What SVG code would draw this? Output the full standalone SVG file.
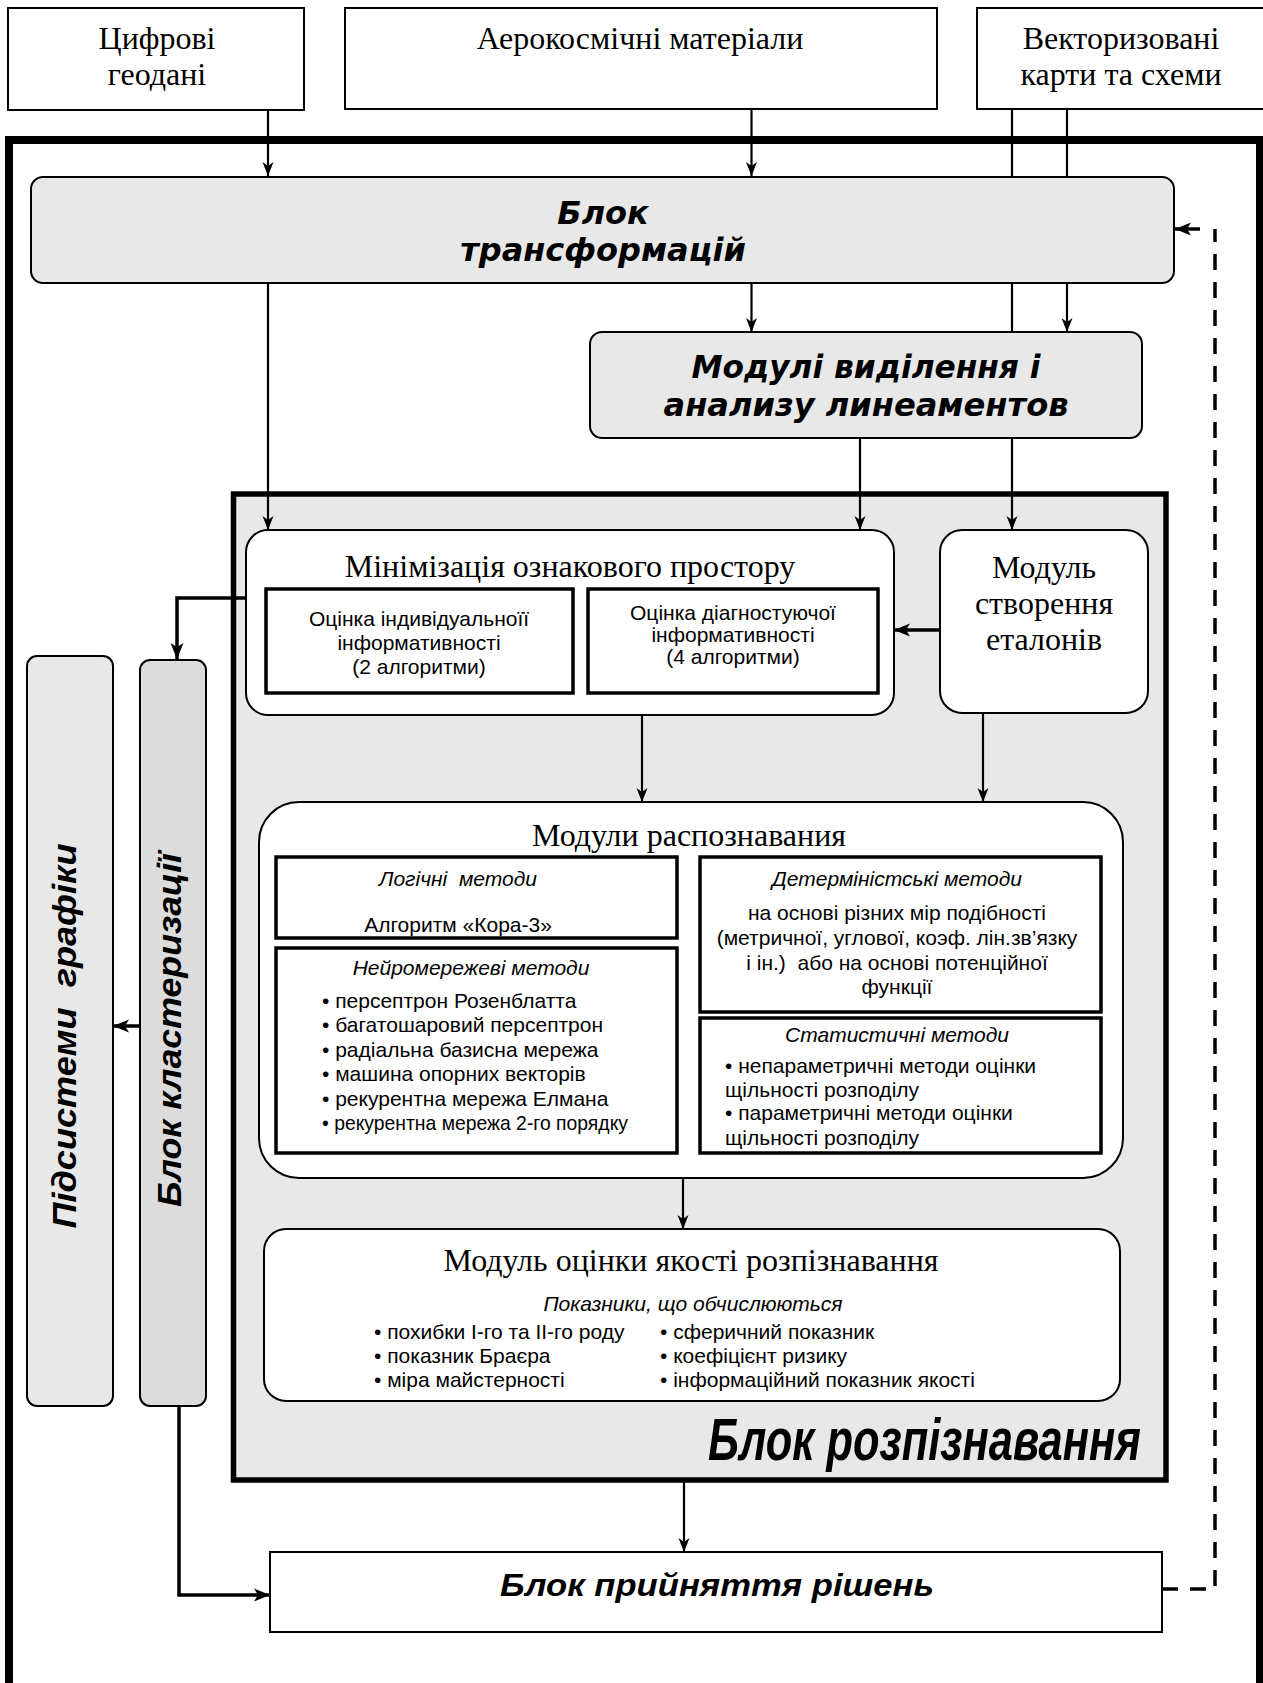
<svg xmlns="http://www.w3.org/2000/svg" width="1263" height="1683" viewBox="0 0 1263 1683">
<style>
.bg{fill:#ffffff}
.box{fill:#ffffff;stroke:#000;stroke-width:2}
.gbox{fill:#e8e8e8;stroke:#000;stroke-width:2}
.tbox{fill:#ffffff;stroke:#000;stroke-width:3.5}
.ln{fill:none;stroke:#000;stroke-width:2.2}
.thk{fill:none;stroke:#000;stroke-width:3.5}
.dash{fill:none;stroke:#000;stroke-width:3.5;stroke-dasharray:16 12}
.serif{font-family:"Liberation Serif","Times New Roman",serif;font-size:32px;fill:#000}
.sans{font-family:"Liberation Sans",Arial,sans-serif;font-size:21px;fill:#000}
.it{font-style:italic}
.hb{font-family:"DejaVu Sans",Verdana,sans-serif;font-weight:bold;font-style:italic;font-size:32px;fill:#000}
.ab{font-family:"Liberation Sans",Arial,sans-serif;font-weight:bold;font-style:italic;fill:#000}
.mid{text-anchor:middle}
</style>
<defs>
<marker id="ah" markerUnits="userSpaceOnUse" markerWidth="14" markerHeight="12" refX="14" refY="6" orient="auto">
<path d="M0,0.5 L14,6 L0,11.5 L4,6 z" fill="#000"/>
</marker>
<marker id="ahk" markerUnits="userSpaceOnUse" markerWidth="16" markerHeight="14" refX="16" refY="7" orient="auto">
<path d="M0,0.5 L16,7 L0,13.5 L4,7 z" fill="#000"/>
</marker>
</defs>
<rect class="bg" x="0" y="0" width="1263" height="1683"/>

<g id="outer-frame">
<path d="M9,1700 V140 H1260 V1700" fill="none" stroke="#000" stroke-width="8"/>
</g>

<g id="recognition-block">
<rect x="233.5" y="494" width="932.5" height="986" fill="#e8e8e8" stroke="#000" stroke-width="5.5"/>
<text class="ab" transform="translate(708,1460) scale(0.73,1)" x="0" y="0" font-size="60" textLength="593" lengthAdjust="spacingAndGlyphs">Блок розпізнавання</text>
</g>

<g id="connectors">
<path class="ln" d="M268,110 V176" marker-end="url(#ah)"/>
<path class="ln" d="M751.5,109 V176" marker-end="url(#ah)"/>
<path class="ln" d="M1012,109 V530" marker-end="url(#ah)"/>
<path class="ln" d="M1067,109 V332" marker-end="url(#ah)"/>
<path class="ln" d="M268,283 V530" marker-end="url(#ah)"/>
<path class="ln" d="M751.5,283 V332" marker-end="url(#ah)"/>
<path class="ln" d="M860,438 V530" marker-end="url(#ah)"/>
<path class="thk" d="M940,630 H894" marker-end="url(#ahk)"/>
<path class="thk" d="M246,598 H177 V659" marker-end="url(#ahk)"/>
<path class="ln" d="M642,715 V802" marker-end="url(#ah)"/>
<path class="ln" d="M983,713 V802" marker-end="url(#ah)"/>
<path class="ln" d="M683,1178 V1229" marker-end="url(#ah)"/>
<path class="thk" d="M140,1026 H113" marker-end="url(#ahk)"/>
<path class="thk" d="M179,1406 V1595 H270" marker-end="url(#ahk)"/>
<path class="ln" d="M684,1482 V1552" marker-end="url(#ah)"/>
<path class="dash" d="M1162,1589 H1215 V229"/>
<path class="thk" d="M1200,229 H1175" marker-end="url(#ahk)"/>
</g>

<g id="src-geodata">
<rect class="box" x="8" y="8" width="296" height="102"/>
<text class="serif mid" x="157" y="49">Цифрові</text>
<text class="serif mid" x="157" y="85">геодані</text>
</g>

<g id="src-aerospace">
<rect class="box" x="345" y="8" width="592" height="101"/>
<text class="serif mid" x="640" y="49">Аерокосмічні матеріали</text>
</g>

<g id="src-vector">
<rect class="box" x="977" y="8" width="300" height="101"/>
<text class="serif mid" x="1121" y="49">Векторизовані</text>
<text class="serif mid" x="1121" y="85">карти та схеми</text>
</g>

<g id="transform-block">
<rect class="gbox" x="31" y="177" width="1143" height="106" rx="12"/>
<text class="hb mid" x="603" y="224">Блок</text>
<text class="hb mid" x="603" y="261">трансформацій</text>
</g>

<g id="lineament-modules">
<rect class="gbox" x="590" y="332" width="552" height="106" rx="12"/>
<text class="hb mid" x="866" y="378" font-size="30" textLength="349" lengthAdjust="spacingAndGlyphs">Модулі виділення і</text>
<text class="hb mid" x="866" y="416" font-size="30" textLength="405" lengthAdjust="spacingAndGlyphs">анализу линеаментов</text>
</g>

<g id="minimization">
<rect class="box" x="246" y="530" width="648" height="185" rx="22"/>
<text class="serif mid" x="570" y="577">Мінімізація ознакового простору</text>
<rect class="tbox" x="266" y="589" width="307" height="104"/>
<text class="sans mid" x="419" y="626">Оцінка індивідуальноїї</text>
<text class="sans mid" x="419" y="650">інформативності</text>
<text class="sans mid" x="419" y="674">(2 алгоритми)</text>
<rect class="tbox" x="588" y="589" width="290" height="104"/>
<text class="sans mid" x="733" y="620">Оцінка діагностуючої</text>
<text class="sans mid" x="733" y="642">інформативності</text>
<text class="sans mid" x="733" y="664">(4 алгоритми)</text>
</g>

<g id="standards-module">
<rect class="box" x="940" y="530" width="208" height="183" rx="22"/>
<text class="serif mid" x="1044" y="578">Модуль</text>
<text class="serif mid" x="1044" y="614">створення</text>
<text class="serif mid" x="1044" y="650">еталонів</text>
</g>

<g id="recognition-modules">
<rect class="box" x="259" y="802" width="864" height="376" rx="40"/>
<text class="serif mid" x="689" y="846">Модули распознавания</text>
<rect class="tbox" x="276" y="857" width="401" height="81"/>
<text class="sans it mid" x="458" y="886" xml:space="preserve">Логічні  методи</text>
<text class="sans mid" x="458" y="932">Алгоритм «Кора-3»</text>
<rect class="tbox" x="276" y="948" width="401" height="205"/>
<text class="sans it mid" x="471" y="975">Нейромережеві методи</text>
<text class="sans" x="322" y="1008">• персептрон Розенблатта</text>
<text class="sans" x="322" y="1032">• багатошаровий персептрон</text>
<text class="sans" x="322" y="1057">• радіальна базисна мережа</text>
<text class="sans" x="322" y="1081">• машина опорних векторів</text>
<text class="sans" x="322" y="1106">• рекурентна мережа Елмана</text>
<text class="sans" x="322" y="1130" textLength="306" lengthAdjust="spacingAndGlyphs">• рекурентна мережа 2-го порядку</text>
<rect class="tbox" x="700" y="857" width="401" height="155"/>
<text class="sans it mid" x="897" y="886">Детерміністські методи</text>
<text class="sans mid" x="897" y="920">на основі різних мір подібності</text>
<text class="sans mid" x="897" y="945">(метричної, углової, коэф. лін.зв’язку</text>
<text class="sans mid" x="897" y="970" xml:space="preserve">і ін.)  або на основі потенційної</text>
<text class="sans mid" x="897" y="994">функції</text>
<rect class="tbox" x="700" y="1018" width="401" height="135"/>
<text class="sans it mid" x="897" y="1042">Статистичні методи</text>
<text class="sans" x="725" y="1073">• непараметричні методи оцінки</text>
<text class="sans" x="725" y="1097">щільності розподілу</text>
<text class="sans" x="725" y="1120">• параметричні методи оцінки</text>
<text class="sans" x="725" y="1145">щільності розподілу</text>
</g>

<g id="quality-module">
<rect class="box" x="264" y="1229" width="856" height="172" rx="22"/>
<text class="serif mid" x="691" y="1271">Модуль оцінки якості розпізнавання</text>
<text class="sans it mid" x="693" y="1311">Показники, що обчислюються</text>
<text class="sans" x="374" y="1339">• похибки І-го та ІІ-го роду</text>
<text class="sans" x="374" y="1363">• показник Браєра</text>
<text class="sans" x="374" y="1387">• міра майстерності</text>
<text class="sans" x="660" y="1339">• сферичний показник</text>
<text class="sans" x="660" y="1363">• коефіцієнт ризику</text>
<text class="sans" x="660" y="1387">• інформаційний показник якості</text>
</g>

<g id="graphics-subsystems">
<rect class="gbox" x="27" y="656" width="86" height="750" rx="10"/>
<text class="ab mid" transform="translate(76,1036) rotate(-90)" font-size="33" textLength="385" lengthAdjust="spacingAndGlyphs" xml:space="preserve">Підсистеми  графіки</text>
</g>

<g id="clustering-block">
<rect x="140" y="660" width="66" height="746" rx="10" fill="#dcdcdc" stroke="#000" stroke-width="2"/>
<text class="ab mid" transform="translate(181,1030) rotate(-90)" font-size="33" textLength="354" lengthAdjust="spacingAndGlyphs">Блок кластеризації</text>
</g>

<g id="decision-block">
<rect class="box" x="270" y="1552" width="892" height="80"/>
<text class="ab mid" x="717" y="1596" font-size="31" textLength="434" lengthAdjust="spacingAndGlyphs">Блок прийняття рішень</text>
</g>
</svg>
